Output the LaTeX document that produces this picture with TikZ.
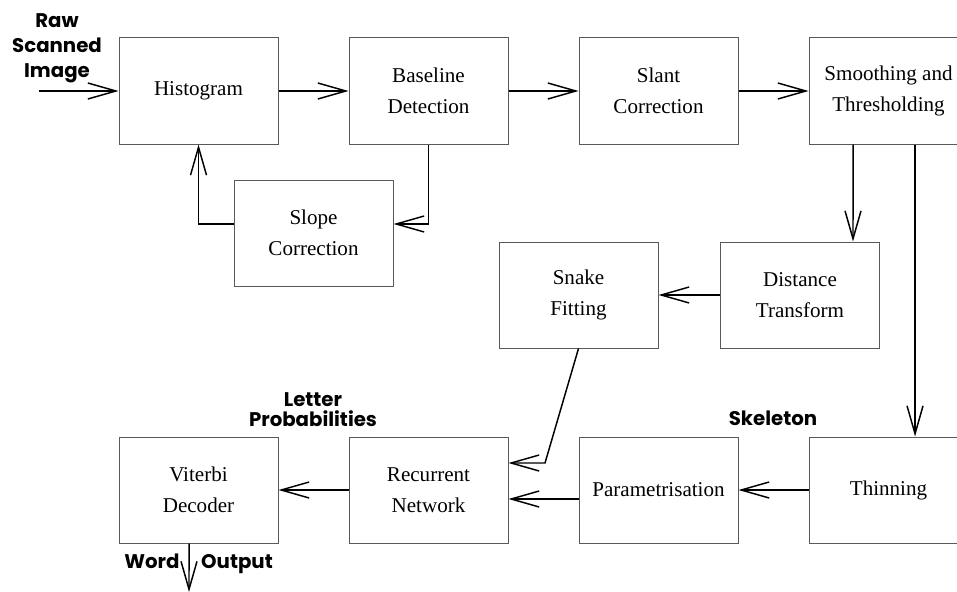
\documentclass[tikz,border=0pt]{standalone}
\usepackage{fontspec}
\setmainfont{Liberation Serif}
\newfontfamily\labelfont{Poppins}
\usetikzlibrary{arrows.meta}
\definecolor{boxgray}{rgb}{0.35,0.35,0.35}
\tikzset{
  stage/.style = {draw = boxgray, line width = 0.75pt, minimum width = \boxwidth, minimum height = \boxheight, inner sep = 0pt, align = center, font = \fontsize{15.8}{23.5}\selectfont},
  flow/.style = {line width = 1.1pt, -{Straight Barb[length = 21pt, width = 12pt]}},
  tag/.style = {align = center, inner sep = 0pt, font = \labelfont\bfseries\fontsize{14.8}{18.75}\selectfont}
}
\begin{document}
\begin{tikzpicture}[x = 0.75pt, y = -0.75pt]
\pgfmathsetlengthmacro\boxwidth{159*0.75}
\pgfmathsetlengthmacro\boxheight{106*0.75}
\useasboundingbox (0,0) rectangle (957,592);
\clip (0,0) rectangle (957,592);
% top row
\node[stage] (hist) at (198.5,91) {Histogram};
\node[stage] (base) at (428.5,91) {Baseline\\Detection};
\node[stage] (slant) at (658.5,91) {Slant\\Correction};
\node[stage] (smooth) at (888.5,91) {Smoothing and\\Thresholding};
% middle
\node[stage] (slope) at (313.5,233) {Slope\\Correction};
\node[stage] (snake) at (578.5,295) {Snake\\Fitting};
\node[stage] (dist) at (800,295) {Distance\\Transform};
% bottom row
\node[stage] (viterbi) at (198.5,490) {Viterbi\\Decoder};
\node[stage] (recur) at (428.5,490) {Recurrent\\Network};
\node[stage] (param) at (658.5,490) {Parametrisation};
\node[stage] (thin) at (888.5,490) {Thinning};
% labels
\node[tag] (raw) at (57,48) {Raw\\Scanned\\Image};
\node[tag, font = \labelfont\bfseries\fontsize{14.8}{15}\selectfont] (letter) at (313,410) {Letter\\Probabilities};
\node[tag] (skel) at (773,418) {Skeleton};
\node[tag, anchor = base] (word) at (152,568) {Word};
\node[tag, anchor = base] (output) at (237,568) {Output};
% connectors
\coordinate (in) at (39,91);
\coordinate (out) at (189,592);
\coordinate (bend) at (545,463);
\draw[flow] (in) -- (hist);
\foreach \a/\b in {hist/base, base/slant, slant/smooth, dist/snake, thin/param, recur/viterbi} \draw[flow] (\a) -- (\b);
\draw[flow] (base.south) |- ([yshift = 6.75pt]slope.east);
\draw[flow] ([yshift = 6.75pt]slope.west) -| (hist.south);
\draw[flow] ([xshift = -26.6pt]smooth.south) -- ([xshift = 39.75pt]dist.north);
\draw[flow] ([xshift = 19.9pt]smooth.south) -- ([xshift = 19.9pt]thin.north);
\draw[flow] (snake.south) -- (bend) -- (recur.east |- bend);
\draw[flow] ([yshift = -6.75pt]param.west) -- ([yshift = -6.75pt]recur.east);
\draw[flow] ([xshift = -7.1pt]viterbi.south) -- (out);
\end{tikzpicture}
\end{document}
